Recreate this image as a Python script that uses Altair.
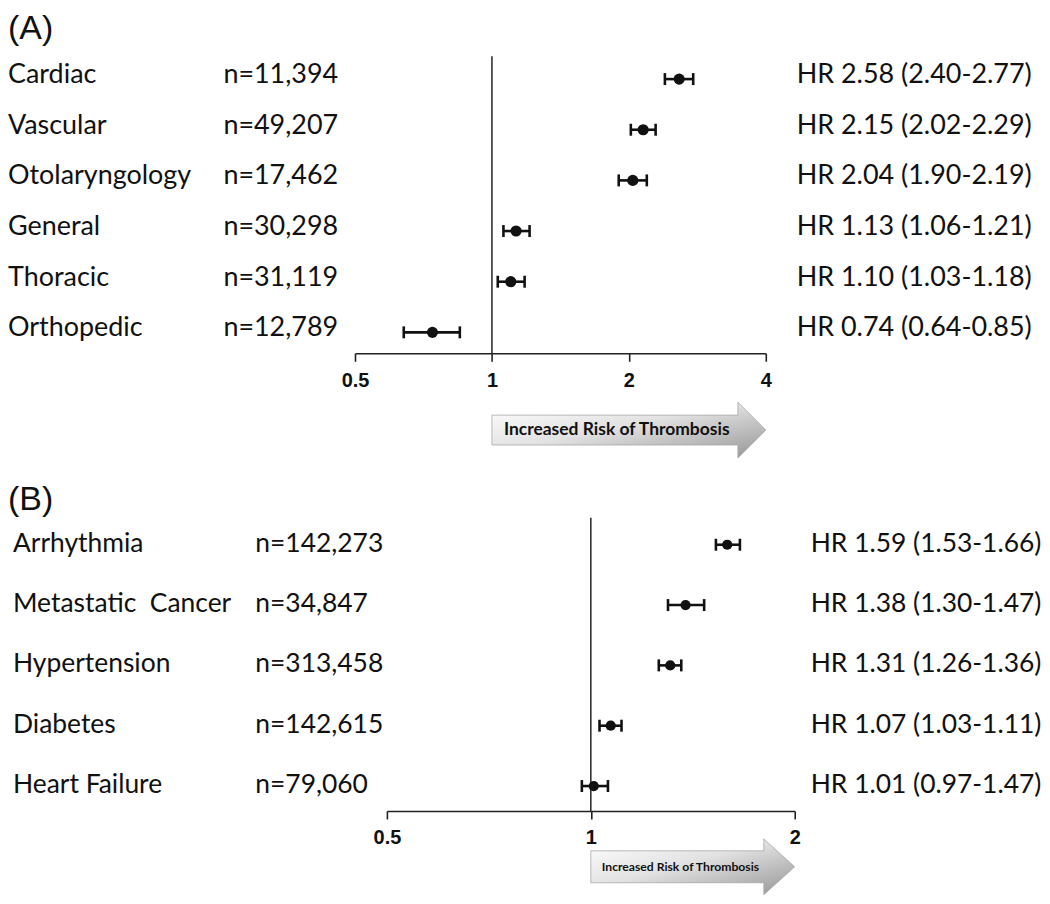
import math
import altair as alt
import pandas as pd

# ---------------- data: panel A (surgical specialty) ----------------
a_groups = ["Cardiac", "Vascular", "Otolaryngology", "General", "Thoracic", "Orthopedic"]
a_n = ["n=11,394", "n=49,207", "n=17,462", "n=30,298", "n=31,119", "n=12,789"]
a_hr = [2.58, 2.15, 2.04, 1.13, 1.10, 0.74]
a_lo = [2.40, 2.02, 1.90, 1.06, 1.03, 0.64]
a_hi = [2.77, 2.29, 2.19, 1.21, 1.18, 0.85]
a_text = ["HR 2.58 (2.40-2.77)", "HR 2.15 (2.02-2.29)", "HR 2.04 (1.90-2.19)",
          "HR 1.13 (1.06-1.21)", "HR 1.10 (1.03-1.18)", "HR 0.74 (0.64-0.85)"]
a_ticks = [0.5, 1, 2, 4]

# ---------------- data: panel B (comorbidity) ----------------
b_groups = ["Arrhythmia", "Metastatic\u00a0 Cancer", "Hypertension", "Diabetes", "Heart Failure"]
b_n = ["n=142,273", "n=34,847", "n=313,458", "n=142,615", "n=79,060"]
b_hr = [1.59, 1.38, 1.31, 1.07, 1.01]
b_lo = [1.53, 1.30, 1.26, 1.03, 0.97]
b_hi = [1.66, 1.47, 1.36, 1.11, 1.06]
b_text = ["HR 1.59 (1.53-1.66)", "HR 1.38 (1.30-1.47)", "HR 1.31 (1.26-1.36)",
          "HR 1.07 (1.03-1.11)", "HR 1.01 (0.97-1.47)"]
b_ticks = [0.5, 1, 2]

ARROW_LABEL = "Increased Risk of Thrombosis"

FONT = "Lato"
W = 1034
INK = "#111111"


def panel(letter, groups, ns, texts, est, lo, hi, ticks, *, height, xrange, yrange,
          ref_top, axis_y, letter_y, col_x, text_dy, text_size, dot_size, cap_size,
          arrow_y, shaft, head, head_len, arrow_font, arrow_dx):
    df = pd.DataFrame({"group": groups, "n": ns, "txt": texts,
                       "est": est, "lo": lo, "hi": hi})
    dom = [min(ticks), max(ticks)]
    xs = alt.Scale(type="log", domain=dom, range=xrange)
    ax = alt.Axis(values=ticks, format="~g", title=None, grid=False,
                  offset=axis_y - height, labelFlush=False, labelOverlap=False,
                  domainColor="#222222", domainWidth=1.6, tickColor="#222222",
                  tickWidth=1.6, tickSize=8, labelPadding=9,
                  labelFont="Liberation Sans", labelFontWeight="bold",
                  labelFontSize=20, labelColor=INK)
    ys = alt.Scale(type="point", domain=groups, range=yrange, padding=0)
    Y = alt.Y("group:N", scale=ys, axis=None)

    def X(field):
        return alt.X(field, type="quantitative", scale=xs, axis=ax)

    base = alt.Chart(df)

    ref = alt.Chart(pd.DataFrame({"v": [1]})).mark_rule(
        color="#333333", strokeWidth=1.6).encode(
        x=X("v"), y=alt.value(ref_top), y2=alt.value(axis_y))

    bars = base.mark_rule(color=INK, strokeWidth=2.6).encode(
        x=X("lo"), x2="hi", y=Y)
    cap_lo = base.mark_tick(color=INK, thickness=2.6, size=cap_size,
                            orient="vertical", opacity=1).encode(x=X("lo"), y=Y)
    cap_hi = base.mark_tick(color=INK, thickness=2.6, size=cap_size,
                            orient="vertical", opacity=1).encode(x=X("hi"), y=Y)
    dots = base.mark_point(filled=True, color=INK, size=dot_size, opacity=1,
                           shape="circle").encode(x=X("est"), y=Y)

    txt_kw = dict(align="left", baseline="middle", font=FONT, fontSize=text_size,
                  color=INK, dy=text_dy)
    t_group = base.mark_text(**txt_kw).encode(x=alt.value(col_x[0]), y=Y, text="group:N")
    t_n = base.mark_text(**txt_kw).encode(x=alt.value(col_x[1]), y=Y, text="n:N")
    t_hr = base.mark_text(**txt_kw).encode(x=alt.value(col_x[2]), y=Y, text="txt:N")

    t_letter = alt.Chart(pd.DataFrame({"l": [letter]})).mark_text(
        align="left", baseline="middle", font="Liberation Sans", fontSize=34,
        color=INK).encode(x=alt.value(0), y=alt.value(letter_y), text="l:N")

    # arrow from HR = 1 to the right end of the axis
    adf = pd.DataFrame({"a_from": [1.0], "a_to": [float(max(ticks))], "label": [ARROW_LABEL]})
    frac = math.log(max(ticks)) / math.log(max(ticks) / min(ticks))
    wpx = (xrange[1] - xrange[0]) * frac
    r = wpx / 2.0
    s1, h1, hb = shaft / r, head / r, 1 - head_len / r
    path = (f"M-1,{-s1:.4f} L{hb:.4f},{-s1:.4f} L{hb:.4f},{-h1:.4f} L1,0 "
            f"L{hb:.4f},{h1:.4f} L{hb:.4f},{s1:.4f} L-1,{s1:.4f} Z")
    grad = alt.Gradient(gradient="linear",
                        stops=[alt.GradientStop(color="#ffffff", offset=0),
                               alt.GradientStop(color="#e2e2e2", offset=0.45),
                               alt.GradientStop(color="#959595", offset=1)],
                        x1=0, y1=0, x2=1, y2=1)
    arrow = alt.Chart(adf).transform_calculate(
        mid="sqrt(datum.a_from * datum.a_to)").mark_point(
        shape=path, size=wpx * wpx, filled=True, fill=grad, opacity=1,
        stroke="#a8a8a8", strokeWidth=0.8).encode(x=X("mid"), y=alt.value(arrow_y))
    arrow_txt = alt.Chart(adf).mark_text(
        align="left", baseline="middle", font=FONT, fontWeight="bold",
        fontSize=arrow_font, color=INK, dx=arrow_dx).encode(
        x=X("a_from"), y=alt.value(arrow_y), text="label:N")

    return alt.layer(ref, bars, cap_lo, cap_hi, dots, t_group, t_n, t_hr,
                     t_letter, arrow, arrow_txt).properties(width=W, height=height)


pa = panel("(A)", a_groups, a_n, a_text, a_hr, a_lo, a_hi, a_ticks,
           height=462, xrange=[348, 760], yrange=[70, 324], ref_top=47, axis_y=345,
           letter_y=20, col_x=[0, 216, 791], text_dy=-4, text_size=27,
           dot_size=125, cap_size=12,
           arrow_y=422, shaft=15, head=28, head_len=28, arrow_font=17.5, arrow_dx=12)

pb = panel("(B)", b_groups, b_n, b_text, b_hr, b_lo, b_hi, b_ticks,
           height=426, xrange=[380, 789], yrange=[75, 317], ref_top=48, axis_y=342,
           letter_y=30, col_x=[5, 248, 805], text_dy=-1, text_size=26.5,
           dot_size=105, cap_size=12,
           arrow_y=398, shaft=16, head=28, head_len=31, arrow_font=12.2, arrow_dx=11)

chart = alt.vconcat(pa, pb, spacing=0).properties(
    padding=0, background="white").configure_view(strokeWidth=0)

chart.save("out.html", embed_options={"renderer": "svg", "actions": False})
